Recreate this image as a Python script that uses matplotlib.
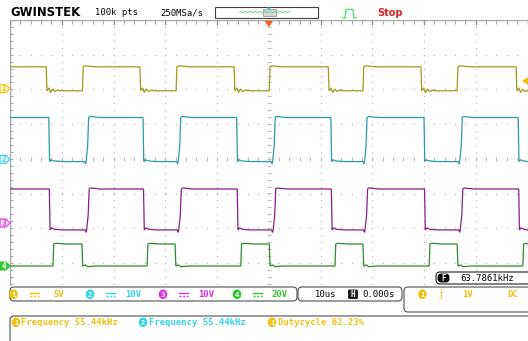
import numpy as np
import matplotlib
matplotlib.use("Agg")
import matplotlib.pyplot as plt
from matplotlib.patches import FancyBboxPatch, Polygon, Ellipse, Rectangle

# ---- scope settings ----
time_div = 10.0          # us / div
ch_names = ["1", "2", "3", "4"]
ch_scale = [5.0, 10.0, 10.0, 20.0]        # V / div
ch_pos = [2.01, -0.01, -1.85, -3.09]       # ground marker position (div)
ch_hi = [3.2, 12.0, 9.8, 12.7]             # V
ch_lo = [-0.25, -0.7, -2.0, 0.0]           # V
ch_start_high = [True, True, True, False]

# edge times in us (0 = trigger)
ch1_rise = [-36.0, -17.9, 0.1, 18.2, 36.4]
ch1_fall = [-43.0, -24.9, -6.7, 11.5, 29.4, 47.8]
ch2_rise = [-35.3, -17.5, 0.75, 18.5, 36.9]
ch2_fall = [-42.5, -24.3, -6.2, 12.0, 30.0, 48.2]
ch3_rise = [-35.2, -17.4, 0.85, 18.6, 37.0]
ch3_fall = [-42.4, -24.2, -6.1, 12.1, 30.1, 48.3]
ch4_rise = [-41.7, -23.5, -5.4, 12.8, 31.0, 49.1]
ch4_fall = [-36.1, -18.1, 0.1, 18.2, 36.4]
rises = [ch1_rise, ch2_rise, ch3_rise, ch4_rise]
falls = [ch1_fall, ch2_fall, ch3_fall, ch4_fall]

# small ringing seen after the edges, (dt us, dv in div)
ring_fall = [[(0.4, 0.08), (0.7, -0.05), (1.1, 0.05), (1.5, -0.02), (2.2, 0.03)],
             [(0.3, 0.05), (0.8, 0.02)],
             [(0.3, 0.06), (0.8, 0.02)],
             [(0.5, 0.03), (1.0, -0.02)]]
ring_rise = [[(0.4, 0.03)],
             [(0.6, 0.03)],
             [(0.6, 0.03)],
             [(0.4, 0.02)]]

freq_ch1 = "55.44kHz"
freq_ch2 = "55.44kHz"
duty_ch1 = "62.23%"
trig_freq = "63.7861kHz"

trace_col = ["#9c9c18", "#2a9ca4", "#8c1c8c", "#2a8c2a"]
label_col = ["#f0c010", "#30d4ec", "#e030e0", "#30c830"]
light_col = ["#fff6c8", "#dff8ff", "#fde0fd", "#30c830"]

W, H = 528, 341
x0, x1 = 10, 527.5
y0, y1 = 20, 297.6

fig = plt.figure(figsize=(W / 100, H / 100), dpi=100)
fig.patch.set_facecolor("white")
ax = fig.add_axes([x0 / W, 1 - y1 / H, (x1 - x0) / W, (y1 - y0) / H])
ax.set_xlim(-5 * time_div, 5 * time_div)
ax.set_ylim(-4, 4)
ax.axis("off")

grid_c = "#bdbdbd"
# dotted graticule
for k in range(-4, 5):
    if k == 0:
        continue
    yy = np.arange(-4, 4.01, 0.2)
    ax.plot(np.full(len(yy), k * time_div), yy, ls="none", marker="s", ms=0.9,
            mec="none", mfc=grid_c)
for k in range(-3, 4):
    xx = np.arange(-48, 48.1, 2)
    ax.plot(xx, np.full(len(xx), k), ls="none", marker="s", ms=0.9,
            mec="none", mfc=grid_c)
# center cross ticks
yy = np.arange(-4, 4.01, 0.2)
ax.plot(np.zeros(len(yy)), yy, ls="none", marker="_", ms=3, mew=0.8, color=grid_c)
xx = np.arange(-48, 48.1, 2)
ax.plot(xx, np.zeros(len(xx)), ls="none", marker="|", ms=3, mew=0.8, color=grid_c)
# left border with ticks, top ruler
ax.plot([-50, -50], [-4, 4], color="#a8a8a8", lw=1.0)
ax.plot(np.full(len(yy), -49.8), yy, ls="none", marker="_", ms=3, mew=0.8, color="#a8a8a8")
ax.plot([-50, 50], [4, 4], color="#a8a8a8", lw=1.0)
xx = np.arange(-50, 50.1, 2)
ax.plot(xx, np.full(len(xx), 3.95), ls="none", marker="|", ms=3, mew=0.8, color="#a8a8a8")
xx = np.arange(-50, 50.1, 10)
ax.plot(xx, np.full(len(xx), 3.93), ls="none", marker="|", ms=4, mew=0.9, color="#909090")

# waveforms
for i in range(4):
    s = ch_scale[i]
    hi = ch_hi[i] / s + ch_pos[i]
    lo = ch_lo[i] / s + ch_pos[i]
    ev = sorted([(t, 1) for t in rises[i]] + [(t, 0) for t in falls[i]])
    level = hi if ch_start_high[i] else lo
    ts, vs = [-50.0], [level]
    for t, up in ev:
        new = hi if up else lo
        if i in (1, 2) and up:
            ts += [t - 0.3, t - 0.1, t, t + 0.3, t + 0.5]
            vs += [level, level - 0.07, level, level + 0.35 * (new - level), new]
        else:
            ts += [t, t + 0.15]
            vs += [level, new]
        rng = ring_rise[i] if up else ring_fall[i]
        for dt, dv in rng:
            ts.append(t + 0.15 + dt)
            vs.append(new + dv)
        ts.append(t + 2.6)
        vs.append(new)
        level = new
    ts.append(50.0)
    vs.append(level)
    ts = np.array(ts)
    vs = np.array(vs)
    order = np.argsort(ts, kind="stable")
    ax.plot(ts[order], vs[order], color=trace_col[i], lw=0.9, solid_joinstyle="miter")

# ---- overlay in pixel coordinates ----
ov = fig.add_axes([0, 0, 1, 1])
ov.set_xlim(0, W)
ov.set_ylim(H, 0)
ov.axis("off")
ov.patch.set_alpha(0)

mono = "DejaVu Sans Mono"
fs = 6.4

# top bar
ov.text(10, 12, "GWINSTEK", fontsize=8.4, fontweight="heavy", family="DejaVu Sans",
        va="center", ha="left", color="black")
ov.text(95, 12.5, "100k pts", fontsize=fs, family=mono, va="center", ha="left")
ov.text(160, 12.5, "250MSa/s", fontsize=fs, family=mono, va="center", ha="left")
ov.add_patch(Rectangle((215, 6.5), 103, 11.5, fill=False, ec="#404040", lw=0.8))
zx = np.arange(240, 291, 2.5)
zy = 12 + np.where(np.arange(len(zx)) % 2 == 0, -0.8, 0.8)
ov.plot(zx, zy, color="#66d88a", lw=0.7)
ov.add_patch(Rectangle((263, 9), 13, 7, fc="#d2d2d2", ec="#909090", lw=0.6, alpha=0.9))
ov.add_patch(Polygon([[267, 7.5], [271, 7.5], [269, 10]], closed=True, fc="#30c8d8", ec="none"))
ov.plot([343, 345, 346, 353, 354, 356], [18, 18, 9.5, 9.5, 18, 18], color="#50e070", lw=1.0)
ov.text(377, 12.5, "Stop", fontsize=7, fontweight="bold", family="DejaVu Sans",
        color="#e02020", va="center", ha="left")
ov.add_patch(Polygon([[264.5, 21], [273, 21], [268.8, 27]], closed=True, fc="#ff5a10", ec="none"))

# channel ground markers on left
marker_y = [88.6, 159.3, 223.0, 266.0]
for i in range(4):
    yc = marker_y[i]
    pts = [[0, yc - 4], [6, yc - 4], [10, yc], [6, yc + 4], [0, yc + 4]]
    ov.add_patch(Polygon(pts, closed=True, fc=light_col[i], ec=label_col[i], lw=0.8))
    ov.text(4, yc + 0.3, ch_names[i], fontsize=5.5, family=mono, fontweight="bold",
            color="white" if i == 3 else label_col[i], va="center", ha="center")
# trigger level marker right side
ov.add_patch(Polygon([[528, 77], [528, 85], [522, 81]], closed=True, fc="#f0c010", ec="none"))

# bottom panels
ov.add_patch(Rectangle((0, 286), W, H - 286, fc="white", ec="none"))


def box(x, y, w, h, ec="#505050"):
    ov.add_patch(FancyBboxPatch((x, y), w, h, boxstyle="round,pad=0,rounding_size=4",
                                fc="white", ec=ec, lw=0.8))


def badge(x, y, txt, col, r=4.3):
    ov.add_patch(Ellipse((x, y), 2 * r, 2 * r + 1, fc=col, ec="none"))
    ov.text(x, y + 0.3, txt, fontsize=5.2, family=mono, fontweight="bold",
            color="white", va="center", ha="center")


def dc_sym(x, y, col):
    ov.plot([x, x + 9], [y - 1.5, y - 1.5], color=col, lw=1.0)
    ov.plot([x, x + 9], [y + 1.5, y + 1.5], color=col, lw=1.0, dashes=(1.5, 1.2))


# frequency counter box
box(436, 272, 100, 12, ec="#202020")
ov.add_patch(FancyBboxPatch((437.5, 273.5), 12, 9, boxstyle="round,pad=0,rounding_size=4",
                            fc="black", ec="none"))
ov.text(443.5, 278.3, "F", fontsize=5.5, family=mono, fontweight="bold", color="white",
        va="center", ha="center")
ov.text(460, 278.3, trig_freq, fontsize=fs, family=mono, va="center", ha="left")

# vertical settings
box(10, 287, 287, 14)
by = 294.3
vol_x = [53, 125, 198, 272]
badge_x = [13.5, 90, 163, 237]
for i in range(4):
    badge(badge_x[i], by, ch_names[i], label_col[i])
    dc_sym(badge_x[i] + 16, by, label_col[i])
    ov.text(vol_x[i], by, f"{ch_scale[i]:g}V", fontsize=fs, family=mono, fontweight="bold",
            color=label_col[i], va="center", ha="left")

# timebase
box(298, 287, 104, 14)
ov.text(315, by, "10us", fontsize=fs, family=mono, va="center", ha="left")
ov.add_patch(FancyBboxPatch((348, 289.5), 10, 9.5, boxstyle="round,pad=0,rounding_size=1.5",
                            fc="#202020", ec="none"))
ov.text(353, by, "H", fontsize=5.5, family=mono, fontweight="bold", color="white",
        va="center", ha="center")
ov.text(362, by, "0.000s", fontsize=fs, family=mono, va="center", ha="left")

# trigger
box(404, 287, 140, 25)
badge(422.5, by, "1", label_col[0])
ov.text(440, by, "ƒ", fontsize=fs, family="DejaVu Sans", color=label_col[0], va="center", ha="left")
ov.text(462, by, "1V", fontsize=fs, family=mono, fontweight="bold", color=label_col[0],
        va="center", ha="left")
ov.text(507, by, "DC", fontsize=fs, family=mono, fontweight="bold", color=label_col[0],
        va="center", ha="left")

# measurements
box(10, 316, 530, 40)
my = 322.3
badge(16, my, "1", label_col[0])
ov.text(21, my, "Frequency " + freq_ch1, fontsize=fs, family=mono, fontweight="bold",
        color=label_col[0], va="center", ha="left")
badge(143, my, "2", label_col[1])
ov.text(149, my, "Frequency " + freq_ch2, fontsize=fs, family=mono, fontweight="bold",
        color=label_col[1], va="center", ha="left")
badge(272, my, "1", label_col[0])
ov.text(278, my, "Dutycycle " + duty_ch1, fontsize=fs, family=mono, fontweight="bold",
        color=label_col[0], va="center", ha="left")

fig.savefig("out.png", dpi=100)
